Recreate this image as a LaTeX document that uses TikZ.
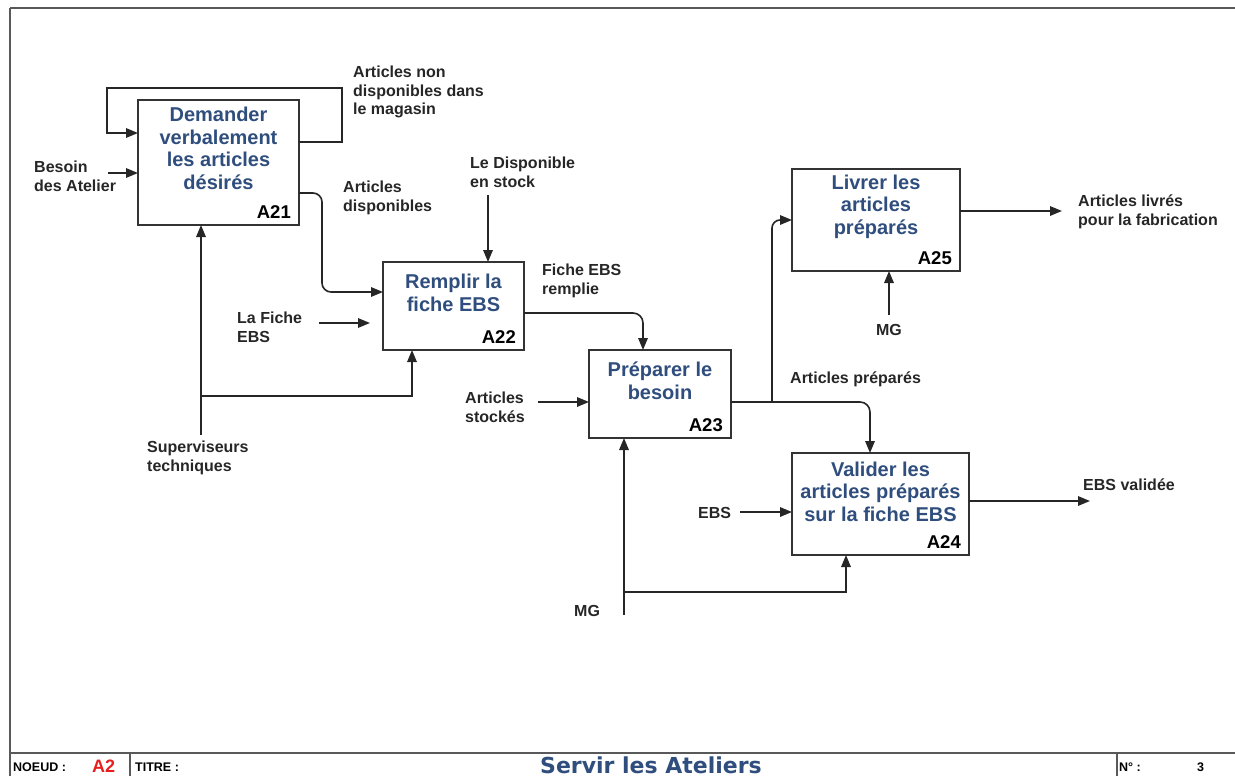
\documentclass[tikz,border=0pt]{standalone}
\usepackage{fontspec}
\setmainfont{Liberation Sans}
\newfontfamily\titlefont{DejaVu Sans}
\usetikzlibrary{arrows.meta,calc}
\definecolor{boxblue}{RGB}{47,78,125}
\definecolor{noderred}{RGB}{232,30,30}

\begin{document}
\begin{tikzpicture}[x=1pt,y=-1pt,
  activity/.style={draw=black!80,line width=1.7pt,fill=white,inner sep=0pt,outer sep=0pt},
  acttitle/.style={anchor=center,align=center,text=boxblue,font=\fontsize{20}{22.5}\selectfont\bfseries,inner sep=0pt},
  actid/.style={anchor=south east,font=\fontsize{18.5}{20}\selectfont\bfseries,inner sep=0pt},
  lbl/.style={anchor=west,align=left,font=\fontsize{16}{18.7}\selectfont\bfseries,inner sep=0pt,text=black!85},
  flow/.style={draw=black!85,line width=1.6pt,-{Triangle[length=12pt,width=9.5pt]}},
  frameline/.style={draw=black!65,line width=2.2pt},
  barlbl/.style={anchor=base west,inner sep=0pt,font=\fontsize{12.5}{14}\selectfont\bfseries},
  ]
\useasboundingbox (0,0) rectangle (1235,776);
\clip (0,0) rectangle (1235,776);

% sheet frame and title bar
\draw[frameline] (10,8) -- (1250,8);
\draw[frameline] (10,8) -- (10,790);
\draw[frameline] (10,753) -- (1250,753);
\draw[frameline] (130,753) -- (130,790);
\draw[frameline] (1117,753) -- (1117,790);
\node[barlbl] (noeud) at (13,771) {NOEUD :};
\node[barlbl,text=noderred,font=\fontsize{18}{19}\selectfont\bfseries] (noeudval) at (92,772) {A2};
\node[barlbl] (titre) at (135,771) {TITRE :};
\node[anchor=base,inner sep=0pt,text=boxblue,font=\titlefont\fontsize{22}{24}\selectfont\bfseries] (title) at (651,773) {Servir les Ateliers};
\node[barlbl] (numero) at (1119,771) {N° :};
\node[barlbl] (numval) at (1197,771) {3};

% activity boxes
\node[activity,minimum width=161pt,minimum height=125pt] (A21) at (218.5,162.5) {};
\node[activity,minimum width=141pt,minimum height=88pt] (A22) at (453.5,306) {};
\node[activity,minimum width=142pt,minimum height=88pt] (A23) at (660,394) {};
\node[activity,minimum width=177pt,minimum height=102pt] (A24) at (880.5,504) {};
\node[activity,minimum width=168pt,minimum height=102pt] (A25) at (876,220) {};

\node[acttitle] (t21) at ($(A21.north)+(0,48.5)$) {Demander\\verbalement\\les articles\\désirés};
\node[acttitle] (t22) at ($(A22.north)+(0,31)$) {Remplir la\\fiche EBS};
\node[acttitle] (t23) at ($(A23.north)+(0,31)$) {Préparer le\\besoin};
\node[acttitle] (t24) at ($(A24.north)+(0,38.5)$) {Valider les\\articles préparés\\sur la fiche EBS};
\node[acttitle] (t25) at ($(A25.north)+(0,37.5)$) {Livrer les\\articles\\préparés};

\node[actid] (i21) at ($(A21.south east)+(-8,-6)$) {A21};
\node[actid] (i22) at ($(A22.south east)+(-8,-6)$) {A22};
\node[actid] (i23) at ($(A23.south east)+(-8,-6)$) {A23};
\node[actid] (i24) at ($(A24.south east)+(-8,-6)$) {A24};
\node[actid] (i25) at ($(A25.south east)+(-8,-6)$) {A25};

% labels
\node[lbl] (lNonDisp) at (353,92) {Articles non\\disponibles dans\\le magasin};
\node[lbl] (lBesoin) at (34,176) {Besoin\\des Atelier};
\node[lbl] (lDispo) at (343,198) {Articles\\disponibles};
\node[lbl] (lStock) at (470,172) {Le Disponible\\en stock};
\node[lbl] (lRemplie) at (542,281) {Fiche EBS\\remplie};
\node[lbl] (lFiche) at (237,327) {La Fiche\\EBS};
\node[lbl] (lSup) at (147,458) {Superviseurs\\techniques};
\node[lbl] (lStockes) at (465,407) {Articles\\stockés};
\node[lbl] (lPrep) at (790,379) {Articles préparés};
\node[lbl,anchor=center] (lMG25) at (889,330) {MG};
\node[lbl] (lLivres) at (1078,212) {Articles livrés\\pour la fabrication};
\node[lbl] (lEBS) at (698,513) {EBS};
\node[lbl] (lValidee) at (1083,485) {EBS validée};
\node[lbl] (lMG) at (574,611) {MG};

% free ends and bends of the connectors
\coordinate (loopR) at (342,88);
\coordinate (loopL) at (107,133);
\coordinate (besoinIn) at (108,173);
\coordinate (dispoBend) at (322,292);
\coordinate (stockIn) at (488,195);
\coordinate (ficheIn) at (319,323);
\coordinate (supIn) at (201,435);
\coordinate (supJoin) at (201,396);
\coordinate (stockesIn) at (538,402);
\coordinate (branch) at (772,402);
\coordinate (livresOut) at (1062,211);
\coordinate (mg25In) at (889,315);
\coordinate (ebsIn) at (740,512);
\coordinate (valideeOut) at (1090,501);
\coordinate (mgIn) at (624,615);
\coordinate (mgJoin) at (624,592);

% A21
\draw[flow] ($(A21.north east)+(0,42)$) -| (loopR) -| (loopL) -- ($(A21.north west)+(0,33)$);
\draw[flow] (besoinIn) -- (besoinIn -| A21.west);
\draw[flow,rounded corners=9pt] ($(A21.north east)+(0,93)$) -| (dispoBend) -- (dispoBend -| A22.west);
\draw[flow] (supIn) -- (supIn |- A21.south);
\draw[flow] (supJoin) -| ($(A22.south west)+(29,0)$);

% A22
\draw[flow] (stockIn) -- (stockIn |- A22.north);
\draw[flow,shorten >=13pt] (ficheIn) -- (ficheIn -| A22.west);
\draw[flow,rounded corners=10pt] ($(A22.north east)+(0,51)$) -| ($(A23.north west)+(54,0)$);

% A23
\draw[flow] (stockesIn) -- (stockesIn -| A23.west);
\draw[flow,rounded corners=10pt] ($(A23.north east)+(0,52)$) -| ($(A24.north west)+(78,0)$);
\draw[flow,rounded corners=8pt] (branch) |- ($(A25.north west)+(0,51)$);
\draw[flow] (mgIn) -- (mgIn |- A23.south);
\draw[flow] (mgJoin) -| ($(A24.south west)+(54,0)$);

% A24
\draw[flow] (ebsIn) -- (ebsIn -| A24.west);
\draw[flow] ($(A24.north east)+(0,48)$) -- (valideeOut);

% A25
\draw[flow] ($(A25.north east)+(0,42)$) -- (livresOut);
\draw[flow] (mg25In) -- (mg25In |- A25.south);
\end{tikzpicture}
\end{document}
